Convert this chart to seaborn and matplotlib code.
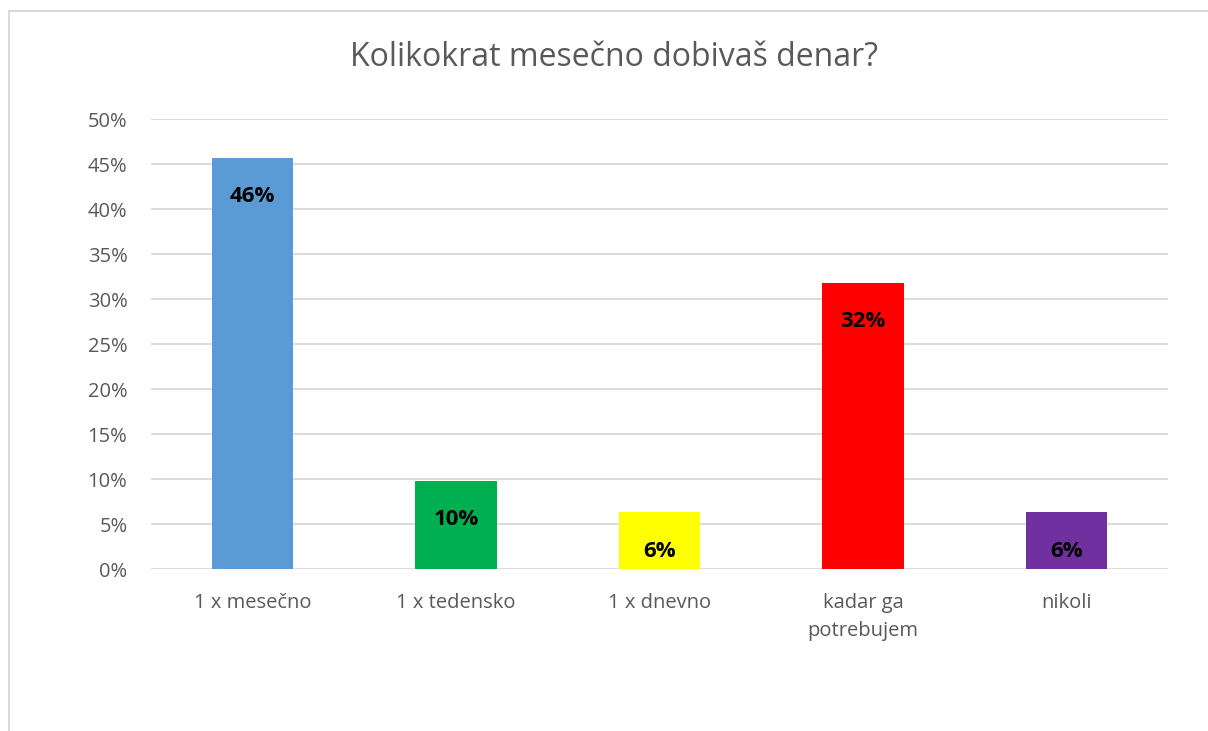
import matplotlib as mpl
import matplotlib.pyplot as plt
import seaborn as sns
import pandas as pd
from matplotlib.patches import Rectangle

categories = ["1 x mesečno", "1 x tedensko", "1 x dnevno", "kadar ga\npotrebujem", "nikoli"]
values = [45.7, 9.8, 6.3, 31.8, 6.3]
labels = ["46%", "10%", "6%", "32%", "6%"]
colors = ["#5B9BD5", "#00B050", "#FFFF00", "#FF0000", "#7030A0"]
yticks = [0, 5, 10, 15, 20, 25, 30, 35, 40, 45, 50]

sns.set_style("white")
plt.rcParams["font.family"] = ["Open Sans", "DejaVu Sans"]

data = pd.DataFrame({"cat": categories, "val": values})

fig = plt.figure(figsize=(12.08, 7.31), dpi=100)
ax = fig.add_axes([0.125, 0.2216, 0.842, 0.6156])

sns.barplot(data=data, x="cat", y="val", hue="cat", palette=colors,
            width=0.40, legend=False, saturation=1, linewidth=0, ax=ax, zorder=3)

# data labels just inside the top of each bar
for i, (v, lab) in enumerate(zip(values, labels)):
    ax.annotate(lab, xy=(i, v), xytext=(0, -28), textcoords="offset points",
                ha="center", va="center", fontsize=16, fontweight="bold", color="black")

ax.set_ylim(0, 50)
ax.set_xlim(-0.5, 4.5)
ax.set_yticks(yticks)
ax.set_yticklabels([f"{t}%" for t in yticks])
ax.yaxis.grid(True, color="#D9D9D9", linewidth=1.3, zorder=0)
ax.set_axisbelow(True)
for s in ax.spines.values():
    s.set_visible(False)
ax.tick_params(axis="both", length=0, labelsize=14.5, colors="#595959")
ax.tick_params(axis="x", pad=17)
ax.tick_params(axis="y", pad=17)
for t in ax.get_xticklabels():
    t.set_linespacing(1.55)
ax.set_xlabel("")
ax.set_ylabel("")

fig.text(0.508, 0.921, "Kolikokrat mesečno dobivaš denar?", ha="center", va="center",
         fontsize=23, color="#595959")

# chart area border
fig.patches.append(Rectangle((9 / 1208, -0.1), 1.2, 1 - 11 / 731 + 0.1, transform=fig.transFigure,
                             fill=False, edgecolor="#D9D9D9", linewidth=1.5))

plt.savefig("out.png", dpi=100)
plt.close()
